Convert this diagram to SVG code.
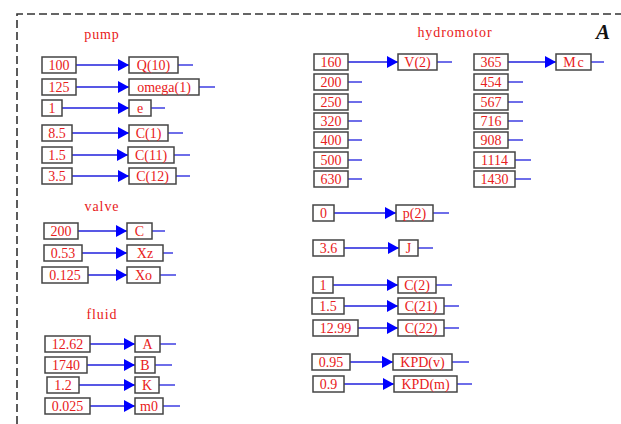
<svg xmlns="http://www.w3.org/2000/svg" width="621" height="424" viewBox="0 0 621 424">
<style>
.bx{fill:#fff;stroke:#444;stroke-width:1.5}
.t{font-family:"Liberation Serif","Times New Roman",serif;font-size:14px;fill:#e82020;text-anchor:middle}
.lb{font-family:"Liberation Serif","Times New Roman",serif;font-size:14px;fill:#e82020;text-anchor:middle;letter-spacing:0.9px}
.c{stroke:#2020dd;stroke-width:1.3;fill:none}
.a{marker-end:url(#ah)}
.frame{stroke:#333;stroke-width:1.6;stroke-dasharray:8 4;fill:none}
</style>
<defs>
<marker id="ah" markerUnits="userSpaceOnUse" markerWidth="11" markerHeight="12" refX="11" refY="6" orient="auto">
<path d="M0,0 L11,6 L0,12 z" fill="#0000ff"/>
</marker>
</defs>
<rect width="621" height="424" fill="#fff"/>
<path class="frame" d="M17,424 L17,14 L621,14"/>
<text x="603" y="39" font-family="Liberation Serif,serif" font-size="21" font-weight="bold" font-style="italic" text-anchor="middle" fill="#111">A</text>
<text class="lb" x="102" y="39">pump</text>
<text class="lb" x="102" y="211">valve</text>
<text class="lb" x="102" y="319">fluid</text>
<text class="lb" x="455" y="37">hydromotor</text>

<g id="connectors">
<line class="c a" x1="76" y1="65" x2="129" y2="65"/><line class="c" x1="178" y1="65" x2="193" y2="65"/>
<line class="c a" x1="76" y1="87" x2="129" y2="87"/><line class="c" x1="199" y1="87" x2="215" y2="87"/>
<line class="c a" x1="62" y1="108" x2="129" y2="108"/><line class="c" x1="151" y1="108" x2="165" y2="108"/>
<line class="c a" x1="72" y1="133" x2="129" y2="133"/><line class="c" x1="168" y1="133" x2="183" y2="133"/>
<line class="c a" x1="72" y1="155" x2="128" y2="155"/><line class="c" x1="174" y1="155" x2="190" y2="155"/>
<line class="c a" x1="72" y1="176" x2="129" y2="176"/><line class="c" x1="176" y1="176" x2="190" y2="176"/>
<line class="c a" x1="78" y1="231" x2="127" y2="231"/><line class="c" x1="152" y1="231" x2="165" y2="231"/>
<line class="c a" x1="82" y1="253" x2="127" y2="253"/><line class="c" x1="163" y1="253" x2="173" y2="253"/>
<line class="c a" x1="88" y1="275" x2="127" y2="275"/><line class="c" x1="160" y1="275" x2="176" y2="275"/>
<line class="c a" x1="90" y1="344" x2="135" y2="344"/><line class="c" x1="160" y1="344" x2="176" y2="344"/>
<line class="c a" x1="87" y1="365" x2="135" y2="365"/><line class="c" x1="155" y1="365" x2="172" y2="365"/>
<line class="c a" x1="79" y1="385" x2="135" y2="385"/><line class="c" x1="159" y1="385" x2="175" y2="385"/>
<line class="c a" x1="90" y1="406" x2="135" y2="406"/><line class="c" x1="163" y1="406" x2="180" y2="406"/>
<line class="c a" x1="348" y1="62" x2="398" y2="62"/><line class="c" x1="437" y1="62" x2="452" y2="62"/>
<line class="c" x1="348" y1="82" x2="362" y2="82"/>
<line class="c" x1="348" y1="102" x2="362" y2="102"/>
<line class="c" x1="348" y1="121" x2="362" y2="121"/>
<line class="c" x1="348" y1="140" x2="362" y2="140"/>
<line class="c" x1="348" y1="160" x2="362" y2="160"/>
<line class="c" x1="348" y1="179" x2="362" y2="179"/>
<line class="c a" x1="508" y1="62" x2="556" y2="62"/><line class="c" x1="591" y1="62" x2="604" y2="62"/>
<line class="c" x1="508" y1="82" x2="523" y2="82"/>
<line class="c" x1="508" y1="102" x2="523" y2="102"/>
<line class="c" x1="508" y1="121" x2="523" y2="121"/>
<line class="c" x1="508" y1="140" x2="523" y2="140"/>
<line class="c" x1="515" y1="160" x2="531" y2="160"/>
<line class="c" x1="515" y1="179" x2="531" y2="179"/>
<line class="c a" x1="334" y1="213" x2="396" y2="213"/><line class="c" x1="433" y1="213" x2="449" y2="213"/>
<line class="c a" x1="344" y1="248" x2="399" y2="248"/><line class="c" x1="418" y1="248" x2="433" y2="248"/>
<line class="c a" x1="333" y1="285" x2="398" y2="285"/><line class="c" x1="436" y1="285" x2="452" y2="285"/>
<line class="c a" x1="344" y1="306" x2="398" y2="306"/><line class="c" x1="444" y1="306" x2="459" y2="306"/>
<line class="c a" x1="358" y1="328" x2="398" y2="328"/><line class="c" x1="444" y1="328" x2="459" y2="328"/>
<line class="c a" x1="350" y1="362" x2="393" y2="362"/><line class="c" x1="452" y1="362" x2="469" y2="362"/>
<line class="c a" x1="344" y1="384" x2="394" y2="384"/><line class="c" x1="457" y1="384" x2="472" y2="384"/>
</g>

<g id="n100"><rect class="bx" x="42" y="57" width="34" height="16"/><text class="t" x="59" y="70">100</text></g>
<g id="nQ10"><rect class="bx" x="129" y="57" width="49" height="16"/><text class="t" x="153.5" y="70">Q(10)</text></g>
<g id="n125"><rect class="bx" x="42" y="79" width="34" height="16"/><text class="t" x="59" y="92">125</text></g>
<g id="nomega1"><rect class="bx" x="129" y="79" width="70" height="16"/><text class="t" x="164" y="92">omega(1)</text></g>
<g id="n1a"><rect class="bx" x="42" y="100" width="20" height="16"/><text class="t" x="52" y="113">1</text></g>
<g id="ne"><rect class="bx" x="129" y="100" width="22" height="16"/><text class="t" x="140" y="113">e</text></g>
<g id="n85"><rect class="bx" x="42" y="125" width="30" height="16"/><text class="t" x="57" y="138">8.5</text></g>
<g id="nC1"><rect class="bx" x="129" y="125" width="39" height="16"/><text class="t" x="148.5" y="138">C(1)</text></g>
<g id="n15a"><rect class="bx" x="42" y="147" width="30" height="16"/><text class="t" x="57" y="160">1.5</text></g>
<g id="nC11"><rect class="bx" x="128" y="147" width="46" height="16"/><text class="t" x="151" y="160">C(11)</text></g>
<g id="n35"><rect class="bx" x="42" y="168" width="30" height="16"/><text class="t" x="57" y="181">3.5</text></g>
<g id="nC12"><rect class="bx" x="129" y="168" width="47" height="16"/><text class="t" x="152.5" y="181">C(12)</text></g>

<g id="n200v"><rect class="bx" x="44" y="223" width="34" height="16"/><text class="t" x="61" y="236">200</text></g>
<g id="nC"><rect class="bx" x="127" y="223" width="25" height="16"/><text class="t" x="139.5" y="236">C</text></g>
<g id="n053"><rect class="bx" x="44" y="245" width="38" height="16"/><text class="t" x="63" y="258">0.53</text></g>
<g id="nXz"><rect class="bx" x="127" y="245" width="36" height="16"/><text class="t" x="145" y="258">Xz</text></g>
<g id="n0125"><rect class="bx" x="42" y="267" width="46" height="16"/><text class="t" x="65" y="280">0.125</text></g>
<g id="nXo"><rect class="bx" x="127" y="267" width="33" height="16"/><text class="t" x="143.5" y="280">Xo</text></g>

<g id="n1262"><rect class="bx" x="45" y="336" width="45" height="16"/><text class="t" x="67.5" y="349">12.62</text></g>
<g id="nA"><rect class="bx" x="135" y="336" width="25" height="16"/><text class="t" x="147.5" y="349">A</text></g>
<g id="n1740"><rect class="bx" x="45" y="357" width="42" height="16"/><text class="t" x="66" y="370">1740</text></g>
<g id="nB"><rect class="bx" x="135" y="357" width="20" height="16"/><text class="t" x="145" y="370">B</text></g>
<g id="n12"><rect class="bx" x="47" y="377" width="32" height="16"/><text class="t" x="63" y="390">1.2</text></g>
<g id="nK"><rect class="bx" x="135" y="377" width="24" height="16"/><text class="t" x="147" y="390">K</text></g>
<g id="n0025"><rect class="bx" x="45" y="398" width="45" height="16"/><text class="t" x="67.5" y="411">0.025</text></g>
<g id="nm0"><rect class="bx" x="135" y="398" width="28" height="16"/><text class="t" x="149" y="411">m0</text></g>

<g id="n160"><rect class="bx" x="314" y="54" width="34" height="16"/><text class="t" x="331" y="67">160</text></g>
<g id="nV2"><rect class="bx" x="398" y="54" width="39" height="16"/><text class="t" x="417.5" y="67">V(2)</text></g>
<g id="n200h"><rect class="bx" x="314" y="74" width="34" height="16"/><text class="t" x="331" y="87">200</text></g>
<g id="n250"><rect class="bx" x="314" y="94" width="34" height="16"/><text class="t" x="331" y="107">250</text></g>
<g id="n320"><rect class="bx" x="314" y="113" width="34" height="16"/><text class="t" x="331" y="126">320</text></g>
<g id="n400"><rect class="bx" x="314" y="132" width="34" height="16"/><text class="t" x="331" y="145">400</text></g>
<g id="n500"><rect class="bx" x="314" y="152" width="34" height="16"/><text class="t" x="331" y="165">500</text></g>
<g id="n630"><rect class="bx" x="314" y="171" width="34" height="16"/><text class="t" x="331" y="184">630</text></g>

<g id="n365"><rect class="bx" x="474" y="54" width="34" height="16"/><text class="t" x="491" y="67">365</text></g>
<g id="nMc"><rect class="bx" x="556" y="54" width="35" height="16"/><text class="t" x="574.5" y="67" letter-spacing="2">Mc</text></g>
<g id="n454"><rect class="bx" x="474" y="74" width="34" height="16"/><text class="t" x="491" y="87">454</text></g>
<g id="n567"><rect class="bx" x="474" y="94" width="34" height="16"/><text class="t" x="491" y="107">567</text></g>
<g id="n716"><rect class="bx" x="474" y="113" width="34" height="16"/><text class="t" x="491" y="126">716</text></g>
<g id="n908"><rect class="bx" x="474" y="132" width="34" height="16"/><text class="t" x="491" y="145">908</text></g>
<g id="n1114"><rect class="bx" x="474" y="152" width="41" height="16"/><text class="t" x="494.5" y="165">1114</text></g>
<g id="n1430"><rect class="bx" x="474" y="171" width="41" height="16"/><text class="t" x="494.5" y="184">1430</text></g>

<g id="n0"><rect class="bx" x="313" y="205" width="21" height="16"/><text class="t" x="323.5" y="218">0</text></g>
<g id="np2"><rect class="bx" x="396" y="205" width="37" height="16"/><text class="t" x="414.5" y="218">p(2)</text></g>
<g id="n36"><rect class="bx" x="313" y="240" width="31" height="16"/><text class="t" x="328.5" y="253">3.6</text></g>
<g id="nJ"><rect class="bx" x="399" y="240" width="19" height="16"/><text class="t" x="408.5" y="253">J</text></g>
<g id="n1b"><rect class="bx" x="313" y="277" width="20" height="16"/><text class="t" x="323" y="290">1</text></g>
<g id="nC2"><rect class="bx" x="398" y="277" width="38" height="16"/><text class="t" x="417" y="290">C(2)</text></g>
<g id="n15b"><rect class="bx" x="312" y="298" width="32" height="16"/><text class="t" x="328" y="311">1.5</text></g>
<g id="nC21"><rect class="bx" x="398" y="298" width="46" height="16"/><text class="t" x="421" y="311">C(21)</text></g>
<g id="n1299"><rect class="bx" x="313" y="320" width="45" height="16"/><text class="t" x="335.5" y="333">12.99</text></g>
<g id="nC22"><rect class="bx" x="398" y="320" width="46" height="16"/><text class="t" x="421" y="333">C(22)</text></g>
<g id="n095"><rect class="bx" x="312" y="354" width="38" height="16"/><text class="t" x="331" y="367">0.95</text></g>
<g id="nKPDv"><rect class="bx" x="393" y="354" width="59" height="16"/><text class="t" x="422.5" y="367">KPD(v)</text></g>
<g id="n09"><rect class="bx" x="313" y="376" width="31" height="16"/><text class="t" x="328.5" y="389">0.9</text></g>
<g id="nKPDm"><rect class="bx" x="394" y="376" width="63" height="16"/><text class="t" x="425.5" y="389">KPD(m)</text></g>
</svg>
